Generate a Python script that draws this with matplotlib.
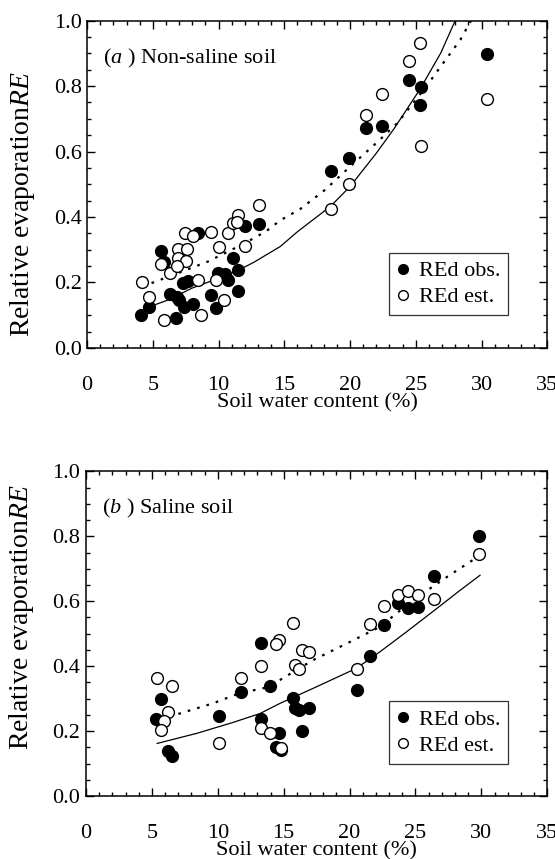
import matplotlib
matplotlib.use("Agg")
import matplotlib.pyplot as plt
from matplotlib.ticker import MultipleLocator
from matplotlib.lines import Line2D

plt.rcParams['font.family'] = ['Liberation Serif', 'DejaVu Serif']
plt.rcParams['mathtext.fontset'] = 'custom'
plt.rcParams['mathtext.rm'] = 'Liberation Serif'
plt.rcParams['mathtext.it'] = 'Liberation Serif:italic'

# (a) non-saline soil
a_obs_x = [4.11, 4.67, 5.63, 5.88, 6.32, 6.75, 6.83, 7.0, 7.4, 8.09, 7.33, 7.66, 8.47,
           9.44, 9.79, 9.99, 10.45, 10.75, 11.06, 11.47, 11.47, 12.02, 13.04,
           18.55, 19.94, 21.23, 22.4, 24.48, 25.42, 25.29, 30.44]
a_obs_y = [0.101, 0.124, 0.295, 0.261, 0.165, 0.09, 0.157, 0.145, 0.126, 0.135, 0.198, 0.203, 0.35,
           0.162, 0.121, 0.228, 0.226, 0.206, 0.274, 0.239, 0.175, 0.373, 0.379,
           0.541, 0.579, 0.672, 0.677, 0.82, 0.797, 0.741, 0.897]
a_est_x = [4.16, 4.67, 5.63, 5.81, 6.32, 6.9, 7.59, 6.95, 7.51, 6.83, 7.46, 8.09, 8.42, 8.68,
           9.44, 10.05, 9.79, 10.4, 10.75, 11.13, 11.47, 11.4, 12.02, 13.09,
           18.55, 19.94, 21.23, 22.4, 24.48, 25.29, 25.4, 30.44]
a_est_y = [0.2, 0.154, 0.257, 0.084, 0.23, 0.302, 0.302, 0.274, 0.264, 0.249, 0.351, 0.343, 0.206, 0.101,
           0.354, 0.307, 0.206, 0.147, 0.351, 0.383, 0.407, 0.386, 0.312, 0.438,
           0.424, 0.5, 0.713, 0.775, 0.877, 0.933, 0.616, 0.76]
a_fit_obs_x = [4.9, 6.2, 8.0, 9.7, 11.3, 12.7, 14.7, 16.0, 18.5, 20.0, 22.0, 23.3, 25.3, 26.9, 28.0]
a_fit_obs_y = [0.128, 0.147, 0.183, 0.208, 0.233, 0.262, 0.31, 0.355, 0.432, 0.493, 0.595, 0.667, 0.789, 0.901, 1.0]
a_fit_est_x = [4.9, 7.2, 9.2, 12.0, 13.6, 14.7, 16.2, 18.1, 20.0, 22.0, 23.6, 25.8, 27.1, 28.4, 29.2]
a_fit_est_y = [0.198, 0.233, 0.264, 0.32, 0.356, 0.39, 0.424, 0.483, 0.554, 0.626, 0.687, 0.799, 0.871, 0.942, 1.0]

# (b) saline soil
b_obs_x = [5.68, 5.3, 6.19, 6.52, 10.12, 11.77, 13.29, 13.98, 13.29, 14.61, 14.44, 14.82,
           15.7, 15.83, 16.16, 16.92, 16.41, 20.6, 21.54, 22.63, 23.64, 24.45, 25.21, 26.43, 29.86]
b_obs_y = [0.298, 0.236, 0.139, 0.123, 0.246, 0.321, 0.472, 0.338, 0.236, 0.193, 0.152, 0.142,
           0.303, 0.27, 0.265, 0.27, 0.201, 0.326, 0.431, 0.528, 0.593, 0.578, 0.582, 0.678, 0.801]
b_est_x = [5.35, 6.52, 6.19, 5.94, 5.68, 10.12, 11.77, 13.29, 14.61, 14.44, 13.29, 13.98, 14.82,
           15.7, 16.41, 16.92, 15.83, 16.16, 20.6, 21.54, 22.63, 23.64, 24.45, 25.21, 26.43, 29.86]
b_est_y = [0.362, 0.338, 0.259, 0.232, 0.203, 0.162, 0.362, 0.4, 0.482, 0.467, 0.208, 0.193, 0.147,
           0.533, 0.449, 0.444, 0.403, 0.39, 0.39, 0.529, 0.585, 0.618, 0.632, 0.618, 0.608, 0.745]
b_fit_obs_x = [5.4, 8.4, 11.1, 13.2, 14.7, 17.2, 20.5, 22.3, 24.3, 26.6, 28.4, 29.9]
b_fit_obs_y = [0.162, 0.193, 0.226, 0.254, 0.285, 0.331, 0.393, 0.444, 0.505, 0.577, 0.634, 0.68]
b_fit_est_x = [6.3, 9.6, 11.6, 13.9, 14.7, 17.2, 19.8, 22.3, 24.8, 27.4, 29.7]
b_fit_est_y = [0.244, 0.285, 0.316, 0.336, 0.357, 0.418, 0.47, 0.521, 0.603, 0.675, 0.736]

panels = [
    ("($\\mathit{a}$ ) Non-saline soil", a_obs_x, a_obs_y, a_est_x, a_est_y,
     a_fit_obs_x, a_fit_obs_y, a_fit_est_x, a_fit_est_y),
    ("($\\mathit{b}$ ) Saline soil", b_obs_x, b_obs_y, b_est_x, b_est_y,
     b_fit_obs_x, b_fit_obs_y, b_fit_est_x, b_fit_est_y),
]

fig = plt.figure(figsize=(5.55, 8.59), dpi=100)
rects = [[0.157, 0.595, 0.829, 0.381], [0.155, 0.0733, 0.831, 0.378]]
ylab_pos = [0.44, 0.55]
fs = 16

for i, (title, ox, oy, ex, ey, fox, foy, fex, fey) in enumerate(panels):
    ax = fig.add_axes(rects[i])
    ax.plot(fox, foy, color='black', lw=0.9, zorder=2)
    ax.plot(fex, fey, color='black', lw=1.6, ls=(0, (1.2, 3.2)), zorder=2)
    ax.plot(ox, oy, 'o', ms=8.5, mfc='black', mec='black', mew=1, ls='none', zorder=3)
    ax.plot(ex, ey, 'o', ms=8.5, mfc='white', mec='black', mew=1, ls='none', zorder=4)

    ax.set_xlim(0, 35)
    ax.set_ylim(0, 1.0)
    ax.xaxis.set_major_locator(MultipleLocator(5))
    ax.xaxis.set_minor_locator(MultipleLocator(1))
    ax.yaxis.set_major_locator(MultipleLocator(0.2))
    ax.yaxis.set_minor_locator(MultipleLocator(0.05))
    ax.yaxis.set_major_formatter(plt.FormatStrFormatter('%.1f'))
    ax.tick_params(which='both', direction='in', top=True, right=True, width=1)
    ax.tick_params(which='major', length=6)
    ax.tick_params(which='minor', length=3)
    ax.tick_params(axis='x', which='major', pad=20, labelsize=fs)
    ax.tick_params(axis='y', which='major', pad=4, labelsize=fs)
    for s in ax.spines.values():
        s.set_linewidth(1.1)

    ax.set_xlabel('Soil water content (%)', fontsize=fs, labelpad=-1)
    ax.set_ylabel('Relative evaporation$\\mathit{RE}$', fontsize=20)
    ax.yaxis.set_label_coords(-0.108, ylab_pos[i])
    ax.text(1.2, 0.885, title, fontsize=fs, va='center', ha='left')

    handles = [Line2D([], [], marker='o', ls='none', ms=7, mfc='black', mec='black'),
               Line2D([], [], marker='o', ls='none', ms=7, mfc='white', mec='black')]
    leg = ax.legend(handles, ['REd obs.', 'REd est.'], loc='lower right',
                    bbox_to_anchor=(0.915, 0.1), fontsize=fs, frameon=True, fancybox=False,
                    handlelength=0.6, handletextpad=0.4, borderpad=0.35, labelspacing=0.25,
                    borderaxespad=0)
    leg.get_frame().set_edgecolor('black')
    leg.get_frame().set_linewidth(0.9)

fig.savefig('out.png', dpi=100)
